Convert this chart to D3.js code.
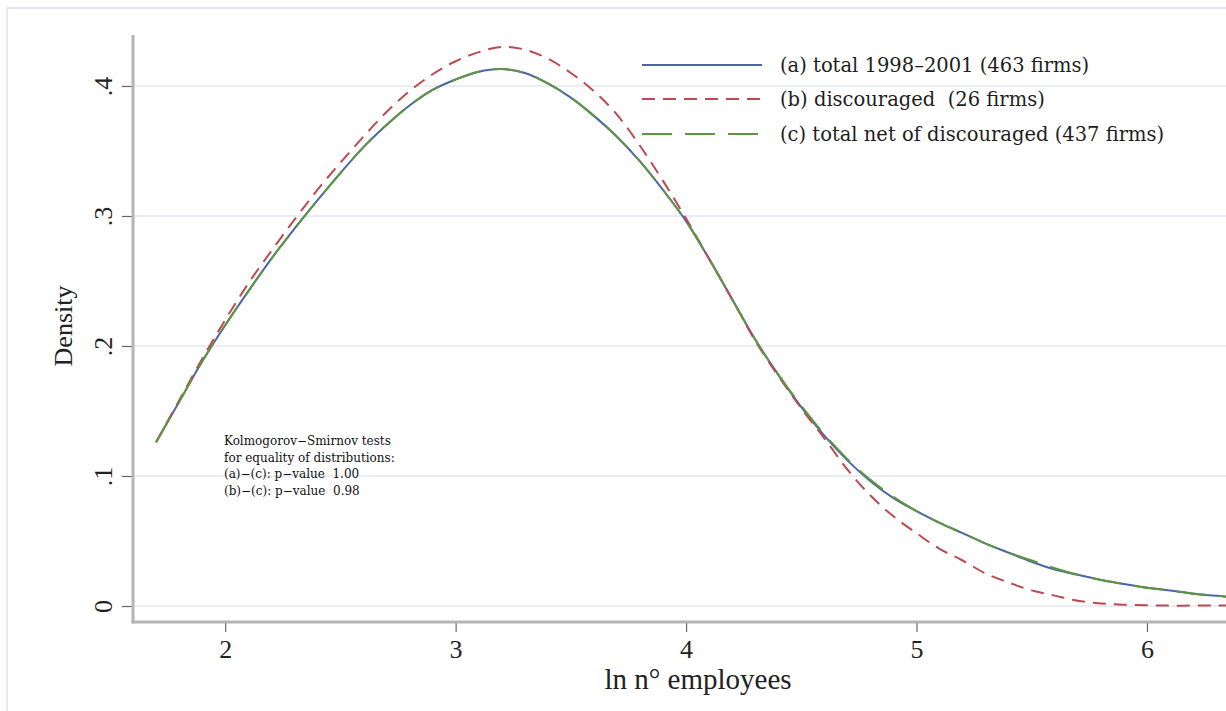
<!DOCTYPE html>
<html>
<head>
<meta charset="utf-8">
<script src="https://cdn.jsdelivr.net/npm/d3@7"></script>
<style>
  body { margin: 0; background: #fff; }
  svg { display: block; }
  text { white-space: pre; }
</style>
</head>
<body>
<div id="chart"></div>
<script>
// ln employees grid and the three kernel densities
var lnEmp = [1.7, 1.8, 1.9, 2.0, 2.1, 2.2, 2.3, 2.4, 2.5, 2.6, 2.7, 2.8, 2.9, 3.0,
  3.1, 3.2, 3.3, 3.4, 3.5, 3.6, 3.7, 3.8, 3.9, 4.0, 4.1, 4.2, 4.3, 4.4, 4.5, 4.6,
  4.7, 4.8, 4.9, 5.0, 5.1, 5.2, 5.3, 5.4, 5.5, 5.6, 5.7, 5.8, 5.9, 6.0, 6.1, 6.2,
  6.3, 6.4];

var totalDens = [0.126, 0.157, 0.188, 0.216, 0.242, 0.267, 0.290, 0.312, 0.333, 0.353,
  0.370, 0.385, 0.397, 0.405, 0.411, 0.413, 0.410, 0.402, 0.391, 0.377, 0.361, 0.342,
  0.320, 0.296, 0.267, 0.236, 0.205, 0.178, 0.153, 0.131, 0.112, 0.096, 0.083, 0.073,
  0.064, 0.056, 0.048, 0.041, 0.034, 0.028, 0.024, 0.020, 0.017, 0.014, 0.012, 0.0095,
  0.0078, 0.0065];

var discDens = [0.126, 0.158, 0.190, 0.220, 0.248, 0.273, 0.297, 0.320, 0.341, 0.361,
  0.380, 0.396, 0.409, 0.419, 0.426, 0.430, 0.428, 0.421, 0.410, 0.396, 0.378, 0.354,
  0.327, 0.298, 0.267, 0.236, 0.204, 0.177, 0.152, 0.129, 0.105, 0.085, 0.069, 0.056,
  0.044, 0.035, 0.025, 0.018, 0.012, 0.008, 0.004, 0.002, 0.001, 0.0005, 0.0003, 0.0003,
  0.0003, 0.0003];

var netDens = [0.126, 0.157, 0.188, 0.216, 0.242, 0.267, 0.290, 0.312, 0.333, 0.353,
  0.370, 0.385, 0.397, 0.405, 0.411, 0.413, 0.410, 0.402, 0.391, 0.377, 0.361, 0.342,
  0.320, 0.296, 0.267, 0.236, 0.205, 0.178, 0.154, 0.132, 0.113, 0.097, 0.084, 0.073,
  0.064, 0.056, 0.048, 0.041, 0.035, 0.029, 0.024, 0.020, 0.017, 0.014, 0.012, 0.0096,
  0.0079, 0.0066];

var seriesNames = ["(a) total 1998\u20132001 (463 firms)", "(b) discouraged  (26 firms)",
  "(c) total net of discouraged (437 firms)"];
var xTicks = [2, 3, 4, 5, 6];
var yTicks = [0, 0.1, 0.2, 0.3, 0.4];
var yTickLabels = ["0", ".1", ".2", ".3", ".4"];
var noteLines = ["Kolmogorov\u2212Smirnov tests", "for equality of distributions:",
  "(a)\u2212(c): p\u2212value  1.00", "(b)\u2212(c): p\u2212value  0.98"];

var W = 1226, H = 711;
var plot = {left: 133, right: 1226, top: 35, bottom: 622};

var svg = d3.select("#chart").append("svg")
    .attr("width", W)
    .attr("height", H);

// faint outer frame of the graph region
svg.append("rect")
    .attr("x", 7).attr("y", 8)
    .attr("width", 1400).attr("height", 900)
    .attr("fill", "none")
    .attr("stroke", "#e6e9f2")
    .attr("stroke-width", 2);

var x = d3.scaleLinear().domain([1.6, 6.343]).range([plot.left, plot.right]);
var y = d3.scaleLinear().domain([-0.0123, 0.4392]).range([plot.bottom, plot.top]);

svg.append("defs").append("clipPath").attr("id", "clip")
  .append("rect")
    .attr("x", plot.left).attr("y", plot.top)
    .attr("width", plot.right - plot.left).attr("height", plot.bottom - plot.top);

// gridlines
svg.append("g")
  .selectAll("line")
  .data(yTicks)
  .enter().append("line")
    .attr("x1", plot.left).attr("x2", plot.right)
    .attr("y1", function(d) { return y(d); })
    .attr("y2", function(d) { return y(d); })
    .attr("stroke", "#e3e7f1")
    .attr("stroke-width", 1.6);

// curves: (a) solid blue, (b) short dash red, (c) long dash green
var line = d3.line()
    .x(function(d) { return x(d[0]); })
    .y(function(d) { return y(d[1]); })
    .curve(d3.curveCatmullRom.alpha(0.5));

var curves = [
  {vals: totalDens, color: "#4c66a5", dash: null},
  {vals: discDens, color: "#bb4a52", dash: "13,8"},
  {vals: netDens, color: "#5f9440", dash: "30,13"}
];

var gCurves = svg.append("g").attr("clip-path", "url(#clip)");
curves.forEach(function(c) {
  gCurves.append("path")
      .datum(d3.zip(lnEmp, c.vals))
      .attr("d", line)
      .attr("fill", "none")
      .attr("stroke", c.color)
      .attr("stroke-width", 2)
      .attr("stroke-dasharray", c.dash);
});

// axes
var xAxis = svg.append("g")
    .attr("transform", "translate(0," + plot.bottom + ")")
    .call(d3.axisBottom(x).tickValues(xTicks).tickSize(10).tickPadding(8).tickFormat(d3.format("d")));
xAxis.select(".domain").remove();
xAxis.append("line")
    .attr("x1", plot.left - 1.5).attr("x2", plot.right)
    .attr("stroke", "#b4b4b4").attr("stroke-width", 3);
xAxis.selectAll(".tick line").attr("stroke", "#666").attr("stroke-width", 1.2);
xAxis.selectAll(".tick text")
    .attr("fill", "#222")
    .style("font-family", "'Liberation Serif', 'Times New Roman', serif")
    .style("font-size", "26px");

var yAxis = svg.append("g")
    .attr("transform", "translate(" + plot.left + ",0)")
    .call(d3.axisLeft(y).tickValues(yTicks).tickSize(11).tickFormat(function(d, i) { return yTickLabels[i]; }));
yAxis.select(".domain").remove();
yAxis.append("line")
    .attr("y1", plot.top).attr("y2", plot.bottom + 1.5)
    .attr("stroke", "#b4b4b4").attr("stroke-width", 3);
yAxis.selectAll(".tick line").attr("stroke", "#666").attr("stroke-width", 1.2);
yAxis.selectAll(".tick text")
    .attr("x", null)
    .attr("text-anchor", "middle")
    .attr("transform", "translate(-21,0) rotate(-90)")
    .attr("dy", "0em")
    .attr("fill", "#222")
    .style("font-family", "'Liberation Serif', 'Times New Roman', serif")
    .style("font-size", "26px");

// axis titles
svg.append("text")
    .attr("x", 698).attr("y", 689)
    .attr("text-anchor", "middle")
    .attr("fill", "#222")
    .style("font-family", "'Liberation Serif', 'Times New Roman', serif")
    .style("font-size", "29px")
    .text("ln n\u00b0 employees");

svg.append("text")
    .attr("transform", "translate(72,326) rotate(-90)")
    .attr("text-anchor", "middle")
    .attr("fill", "#222")
    .style("font-family", "'Liberation Serif', 'Times New Roman', serif")
    .style("font-size", "26px")
    .text("Density");

// legend
var legend = svg.append("g");
var legendY = [65, 99, 134];
curves.forEach(function(c, i) {
  legend.append("line")
      .attr("x1", 642).attr("x2", 762)
      .attr("y1", legendY[i]).attr("y2", legendY[i])
      .attr("stroke", c.color)
      .attr("stroke-width", 2)
      .attr("stroke-dasharray", c.dash);
  legend.append("text")
      .attr("x", 780).attr("y", legendY[i] + 6.5)
      .attr("fill", "#1e1e1e")
      .style("font-family", "'DejaVu Serif', serif")
      .style("font-size", "19.5px")
      .text(seriesNames[i]);
});

// Kolmogorov-Smirnov note
svg.append("g").selectAll("text")
  .data(noteLines)
  .enter().append("text")
    .attr("x", 224)
    .attr("y", function(d, i) { return 445 + i * 16.5; })
    .attr("fill", "#111")
    .style("font-family", "'DejaVu Serif', serif")
    .style("font-size", "12px")
    .text(function(d) { return d; });
</script>
</body>
</html>
